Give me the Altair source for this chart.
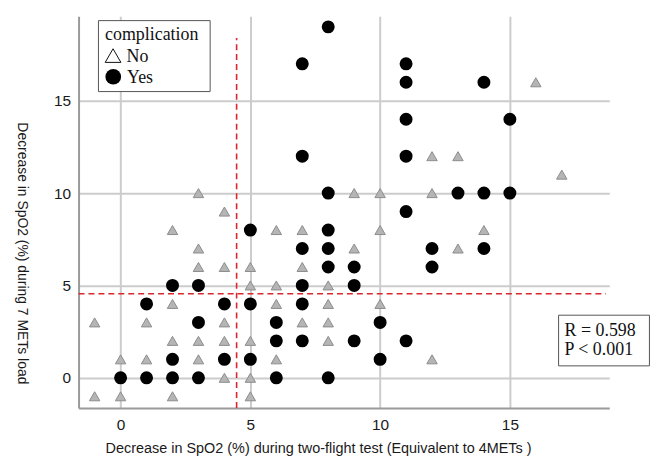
import altair as alt
import pandas as pd

# ---- data ----
no_x = [3, 4, 6, 2, 3, 3, 4, 5, 5, 6, 2, 6, -1, 1, 4, 2, 3, 4, 5, 0, 1, 3, 6, 4, 5, -1, 0, 2, 5,
        9, 10, 12, 7, 10, 9, 13, 7, 8, 8, 10, 7, 8, 8, 12, 12, 13, 16, 17, 14]
no_y = [10, 9, 8, 8, 7, 6, 6, 6, 5, 5, 4, 4, 3, 3, 3, 2, 2, 2, 2, 1, 1, 1, 1, 0, 0, -1, -1, -1, -1,
        10, 10, 10, 8, 8, 7, 7, 6, 5, 4, 4, 3, 3, 2, 1, 12, 12, 16, 11, 8]
yes_x = [5, 2, 3, 1, 4, 5, 3, 6, 6, 2, 4, 5, 0, 1, 2, 3, 6,
         8, 13, 11, 8, 7, 8, 12, 8, 9, 12, 7, 9, 7, 10, 7, 9, 11, 10, 8,
         8, 7, 11, 11, 11, 7, 11, 14, 15, 14, 15, 14]
yes_y = [8, 5, 5, 4, 4, 4, 3, 3, 2, 1, 1, 1, 0, 0, 0, 0, 0,
         10, 10, 9, 8, 7, 7, 7, 6, 6, 6, 5, 5, 4, 3, 2, 2, 2, 1, 0,
         19, 17, 17, 16, 14, 12, 12, 16, 14, 10, 10, 7]
groups = ["No", "Yes"]
x_ticks = [0, 5, 10, 15]
y_ticks = [0, 5, 10, 15]
x_domain = [-1.62, 18.83]
y_domain = [-1.63, 19.57]
cut_x = [4.47]
cut_y = [4.55]
vline_top = [18.4]
hline_right = [18.7]
legend_title = "complication"
stats_text = ["R = 0.598", "P < 0.001"]
x_title = "Decrease in SpO2 (%) during two-flight test (Equivalent to 4METs )"
y_title = "Decrease in SpO2 (%) during 7 METs load"

W, H = 534, 394
SANS = "Liberation Sans"
SERIF = "Liberation Serif"

df_no = pd.DataFrame({"x": no_x, "y": no_y, "complication": groups[0]})
df_yes = pd.DataFrame({"x": yes_x, "y": yes_y, "complication": groups[1]})

X = alt.X("x:Q", scale=alt.Scale(domain=x_domain, nice=False, zero=False),
          axis=alt.Axis(values=x_ticks, title=x_title, grid=True, ticks=False,
                        labelPadding=10, titleX=241, titleY=41,
                        titleAlign="center", titleBaseline="middle",
                        titleFontSize=14.5))
Y = alt.Y("y:Q", scale=alt.Scale(domain=y_domain, nice=False, zero=False),
          axis=alt.Axis(values=y_ticks, title=y_title, grid=True, ticks=False,
                        labelPadding=8, titleAngle=90, titleX=-57, titleY=238,
                        titleAlign="center", titleBaseline="middle",
                        titleFontSize=14))

tri = alt.Chart(df_no).mark_point(shape="triangle-up", filled=True, fill="#b5b5b5",
                                  stroke="#8c8c8c", strokeWidth=1, size=110,
                                  opacity=1).encode(x=X, y=Y)
circ = alt.Chart(df_yes).mark_point(shape="circle", filled=True, color="#000000",
                                    size=170, opacity=1).encode(x=X, y=Y)

vdf = pd.DataFrame({"x": cut_x, "y": [y_domain[0]], "y2": vline_top})
hdf = pd.DataFrame({"x": [x_domain[0]], "x2": hline_right, "y": cut_y})
red = "#d9272e"
vrule = alt.Chart(vdf).mark_rule(color=red, strokeDash=[6, 4], strokeWidth=1.6).encode(
    x=X, y=Y, y2="y2:Q")
hrule = alt.Chart(hdf).mark_rule(color=red, strokeDash=[6, 4], strokeWidth=1.6).encode(
    x=X, x2="x2:Q", y=Y)

one = pd.DataFrame({"a": [0]})

leg_box = alt.Chart(one).mark_rect(fill="white", stroke="#555555", strokeWidth=1).encode(
    x=alt.value(20), x2=alt.value(132.4), y=alt.value(4.3), y2=alt.value(75.7))
leg_title = alt.Chart(one).mark_text(text=legend_title, font=SERIF, fontSize=18,
                                     align="left", baseline="alphabetic", color="#111").encode(
    x=alt.value(26.7), y=alt.value(24.3))
leg_tri = alt.Chart(one).mark_point(shape="triangle-up", filled=False, stroke="#111",
                                    strokeWidth=1, size=250, opacity=1).encode(
    x=alt.value(34.7), y=alt.value(39.5))
leg_circ = alt.Chart(one).mark_point(shape="circle", filled=True, color="#000",
                                     size=250, opacity=1).encode(
    x=alt.value(34.9), y=alt.value(60.8))
leg_no = alt.Chart(one).mark_text(text=groups[0], font=SERIF, fontSize=18,
                                  align="left", baseline="alphabetic", color="#111").encode(
    x=alt.value(48.3), y=alt.value(46))
leg_yes = alt.Chart(one).mark_text(text=groups[1], font=SERIF, fontSize=18,
                                   align="left", baseline="alphabetic", color="#111").encode(
    x=alt.value(48.8), y=alt.value(66.7))

st_box = alt.Chart(one).mark_rect(fill="white", stroke="#555555", strokeWidth=1).encode(
    x=alt.value(483), x2=alt.value(574.4), y=alt.value(300.7), y2=alt.value(351.7))
st_r = alt.Chart(one).mark_text(text=stats_text[0], font=SERIF, fontSize=18,
                                align="left", baseline="alphabetic", color="#111").encode(
    x=alt.value(489), y=alt.value(321.7))
st_p = alt.Chart(one).mark_text(text=stats_text[1], font=SERIF, fontSize=18,
                                align="left", baseline="alphabetic", color="#111").encode(
    x=alt.value(489), y=alt.value(341))

chart = alt.layer(
    tri, vrule, hrule, circ,
    leg_box, leg_title, leg_tri, leg_circ, leg_no, leg_yes,
    st_box, st_r, st_p,
).properties(
    width=W, height=H,
    autosize=alt.AutoSizeParams(type="none"),
    padding={"left": 71, "top": 7, "right": 45, "bottom": 48},
    background="white",
).configure_view(stroke=None).configure_axis(
    labelFont=SANS, labelFontSize=15.5, labelColor="#1a1a1a",
    titleFont=SANS, titleFontWeight="normal", titleColor="#1a1a1a",
    gridColor="#cccccc", gridWidth=2,
    domainColor="#9a9a9a", domainWidth=2,
)

chart.save("out.html", embed_options={"renderer": "svg", "actions": False})
